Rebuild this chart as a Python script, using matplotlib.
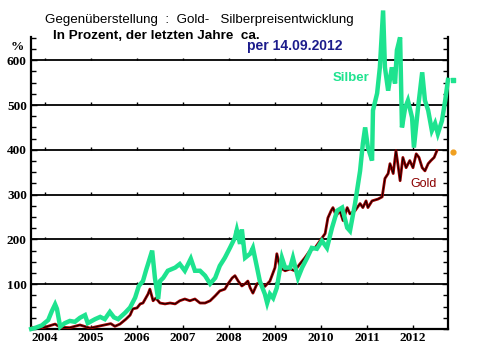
import matplotlib
matplotlib.use("Agg")
import matplotlib.pyplot as plt
from matplotlib.ticker import MultipleLocator

# Silber: Zeit (Dezimaljahr) und Veränderung in %
silber_t = [2003.70, 2003.80, 2003.93, 2004.07, 2004.15, 2004.22, 2004.26, 2004.33, 2004.43, 2004.54,
            2004.65, 2004.76, 2004.87, 2004.93, 2005.09, 2005.20, 2005.30, 2005.41, 2005.50, 2005.59,
            2005.74, 2005.85, 2005.96, 2006.04, 2006.13, 2006.20, 2006.24, 2006.33, 2006.39, 2006.46,
            2006.50, 2006.57, 2006.67, 2006.83, 2006.93, 2007.04, 2007.17, 2007.26, 2007.37, 2007.48,
            2007.59, 2007.70, 2007.80, 2007.91, 2008.02, 2008.13, 2008.17, 2008.24, 2008.28, 2008.35,
            2008.46, 2008.52, 2008.61, 2008.67, 2008.78, 2008.83, 2008.89, 2008.96, 2009.04, 2009.15,
            2009.22, 2009.33, 2009.39, 2009.50, 2009.59, 2009.70, 2009.80, 2009.91, 2010.02, 2010.13,
            2010.24, 2010.35, 2010.46, 2010.57, 2010.63, 2010.74, 2010.85, 2010.91, 2010.96, 2011.02,
            2011.11, 2011.13, 2011.22, 2011.28, 2011.35, 2011.39, 2011.46, 2011.54, 2011.61, 2011.65,
            2011.72, 2011.76, 2011.83, 2011.89, 2011.98, 2012.02, 2012.11, 2012.20, 2012.26, 2012.33,
            2012.41, 2012.48, 2012.54, 2012.63, 2012.70, 2012.76]
silber = [0, 3, 8, 20, 40, 55, 45, 5, 13, 18,
          16, 25, 31, 13, 22, 27, 22, 38, 26, 22,
          36, 48, 70, 96, 107, 132, 145, 175, 114, 67,
          107, 114, 130, 137, 145, 130, 157, 130, 130, 119,
          101, 114, 141, 159, 181, 204, 221, 190, 222, 159,
          168, 181, 137, 107, 78, 58, 78, 69, 92, 159,
          137, 137, 159, 114, 137, 159, 181, 179, 197, 181,
          226, 264, 271, 226, 219, 280, 353, 414, 450, 405,
          376, 488, 526, 584, 711, 584, 532, 584, 548, 622,
          651, 450, 494, 510, 472, 405, 494, 573, 510, 488,
          443, 459, 436, 465, 510, 556]

# Gold
gold_t = [2003.70, 2003.89, 2004.00, 2004.22, 2004.33, 2004.54, 2004.76, 2004.98, 2005.20, 2005.43,
          2005.52, 2005.63, 2005.76, 2005.85, 2005.91, 2006.00, 2006.07, 2006.13, 2006.24, 2006.28,
          2006.35, 2006.41, 2006.50, 2006.61, 2006.72, 2006.83, 2006.93, 2007.04, 2007.15, 2007.26,
          2007.37, 2007.48, 2007.59, 2007.70, 2007.80, 2007.91, 2007.98, 2008.07, 2008.13, 2008.20,
          2008.28, 2008.35, 2008.41, 2008.46, 2008.52, 2008.61, 2008.67, 2008.78, 2008.89, 2009.00,
          2009.04, 2009.11, 2009.22, 2009.33, 2009.43, 2009.54, 2009.65, 2009.76, 2009.87, 2009.98,
          2010.09, 2010.15, 2010.22, 2010.26, 2010.33, 2010.41, 2010.48, 2010.57, 2010.63, 2010.74,
          2010.85, 2010.91, 2010.98, 2011.02, 2011.11, 2011.24, 2011.33, 2011.39, 2011.46, 2011.50,
          2011.57, 2011.63, 2011.67, 2011.72, 2011.78, 2011.85, 2011.93, 2012.00, 2012.07, 2012.13,
          2012.20, 2012.26, 2012.33, 2012.39, 2012.46, 2012.52]
gold = [4, 2, 4, 11, 4, 3, 9, 2, 7, 12,
        6, 11, 22, 31, 45, 47, 56, 58, 78, 89,
        63, 69, 58, 56, 58, 56, 63, 67, 63, 67,
        58, 58, 63, 74, 85, 89, 101, 114, 119, 107,
        96, 101, 107, 92, 80, 101, 103, 95, 107, 137,
        168, 137, 130, 134, 130, 145, 159, 175, 181, 197,
        213, 248, 264, 271, 253, 264, 242, 271, 257, 264,
        280, 271, 286, 271, 286, 290, 295, 336, 347, 369,
        347, 398, 369, 331, 383, 360, 376, 360, 391, 383,
        360, 353, 369, 376, 383, 398]

jahre = [2004, 2005, 2006, 2007, 2008, 2009, 2010, 2011, 2012]
prozent = [100, 200, 300, 400, 500, 600]

W, H = 484, 363
fig = plt.figure(figsize=(W / 100, H / 100), dpi=100)
ax = fig.add_axes([31 / W, 1 - 329 / H, (448 - 31) / W, (329 - 37) / H])

gruen = '#1ee38f'
rot = '#a00000'

ax.plot(gold_t, gold, color=rot, lw=2.0, zorder=3)
ax.plot(gold_t, gold, color='black', lw=0.6, zorder=3)
ax.plot(silber_t, silber, color=gruen, lw=3.2, zorder=4, clip_on=False,
        solid_joinstyle='miter')

ax.set_xlim(2003.696, 2012.761)
ax.set_ylim(0, 651.8)

# Gitterlinien
for p in prozent:
    ax.axhline(p, color='black', lw=1.3, zorder=2)
    ax.vlines(jahre, p, p + 6, color='black', lw=1, zorder=2)

# Endpunkte rechts
ax.scatter([2012.88], [silber[-1]], s=10, marker='s', color=gruen, clip_on=False, zorder=5)
ax.scatter([2012.88], [gold[-1] - 4], s=12, marker='o', color='#f0a020', clip_on=False, zorder=5)

for s in ['left', 'right', 'bottom']:
    ax.spines[s].set_linewidth(1.6)
ax.spines['top'].set_visible(False)

ax.set_xticks(jahre)
ax.set_xticklabels([str(j) for j in jahre])
ax.set_yticks(prozent)
ax.set_yticklabels([str(p) for p in prozent])
ax.yaxis.set_minor_locator(MultipleLocator(25))
ax.tick_params(axis='y', which='both', direction='in', left=True, right=True, width=1)
ax.tick_params(axis='y', which='major', length=4, pad=3)
ax.tick_params(axis='y', which='minor', length=3.5)
ax.tick_params(axis='x', direction='in', length=3, width=1, pad=2)
for lab in ax.get_xticklabels() + ax.get_yticklabels():
    lab.set_family('Liberation Serif')
    lab.set_fontweight('bold')
    lab.set_fontsize(9.5)

def fx(px):
    return px / W

def fy(py):
    return 1 - py / H

fig.text(fx(45), fy(20), 'Gegenüberstellung  :  Gold-   Silberpreisentwicklung',
         family='Liberation Sans', fontsize=9.6, ha='left', va='center')
fig.text(fx(53), fy(36), 'In Prozent, der letzten Jahre  ca.',
         family='Liberation Sans', fontsize=9.7, fontweight='bold', ha='left', va='center')
fig.text(fx(247), fy(46), 'per 14.09.2012', family='Liberation Sans', fontsize=10,
         fontweight='bold', color='#1c1c8c', ha='left', va='center')
fig.text(fx(11), fy(47), '%', family='Liberation Serif', fontsize=9.5, fontweight='bold',
         ha='left', va='center')
fig.text(fx(333), fy(78), 'Silber', family='Liberation Sans', fontsize=9.5,
         fontweight='bold', color=gruen, ha='left', va='center')
fig.text(fx(410), fy(184), 'Gold', family='Liberation Sans', fontsize=9,
         color='#8b0000', ha='left', va='center')

fig.savefig('out.png', dpi=100)
